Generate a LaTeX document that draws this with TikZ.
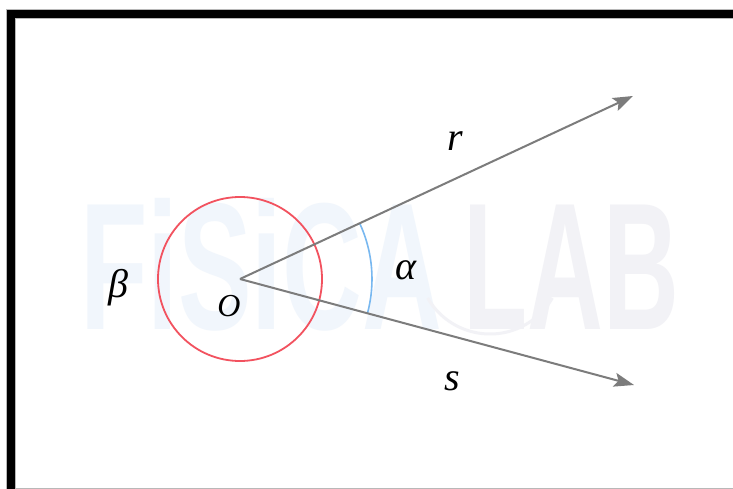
\documentclass[tikz,border=0pt]{standalone}
\usepackage{fontspec}
\setmainfont{Liberation Serif}
\newfontfamily\wmfont{Liberation Sans}
\usetikzlibrary{arrows.meta}
\definecolor{raygray}{HTML}{7C7C7C}
\definecolor{circred}{HTML}{F2525F}
\definecolor{arcblue}{HTML}{78B8F0}
\definecolor{wmblue}{HTML}{F1F6FC}
\definecolor{wmgray}{HTML}{F2F2F6}
\definecolor{framegray}{HTML}{B8B8B8}
\tikzset{
  ray/.style={draw=raygray, line width=2pt, -{Stealth[length=20pt,width=14pt,inset=4pt]}},
  lbl/.style={font=\fontsize{40}{46}\selectfont\itshape, inner sep=0pt},
  olbl/.style={font=\fontsize{32}{36}\selectfont\itshape, inner sep=0pt},
}
\begin{document}
\begin{tikzpicture}[x=1pt,y=-1pt]
\useasboundingbox (0,0) rectangle (733,489);
\fill[white] (0,0) rectangle (733,489);
% watermark
\node[anchor=base west, inner sep=0pt, text=wmblue, font=\wmfont\bfseries\fontsize{181}{181}\selectfont] (wm1) at (80,329) {\scalebox{0.61}[1]{FiSiCA}};
\node[anchor=base west, inner sep=0pt, text=wmgray, font=\wmfont\bfseries\fontsize{181}{181}\selectfont] (wm2) at (463,329) {\scalebox{0.58}[1]{LAB}};
\draw[wmgray, line width=3pt] (490,262) ++(150:72) arc[start angle=150, end angle=30, radius=72];
% frame
\draw[framegray, line width=0.8pt] (15,488) -- (733,488);
\fill[framegray] (6,9.5) rectangle (733,19.5);
\fill[framegray] (6,9.5) rectangle (16,489);
\fill[black] (7,10.5) rectangle (733,18.5);
\fill[black] (7,10.5) rectangle (15,489);
% geometry
\coordinate (o) at (240,279);
\coordinate (rt) at (633,96);
\coordinate (st) at (634,385);
\draw[circred, line width=1.8pt] (o) circle[radius=82];
\draw[arcblue, line width=1.6pt] (o) ++(-25:132) arc[start angle=-25, end angle=15.1, radius=132];
\draw[ray] (o) -- (rt);
\draw[ray] (o) -- (st);
% labels
\node[lbl] (r) at (455,141) {r};
\node[lbl] (s) at (452,381) {s};
\node[lbl] (a) at (406,270) {α};
\node[lbl] (b) at (118,288) {β};
\node[olbl] (ol) at (229,306) {O};
\end{tikzpicture}
\end{document}
